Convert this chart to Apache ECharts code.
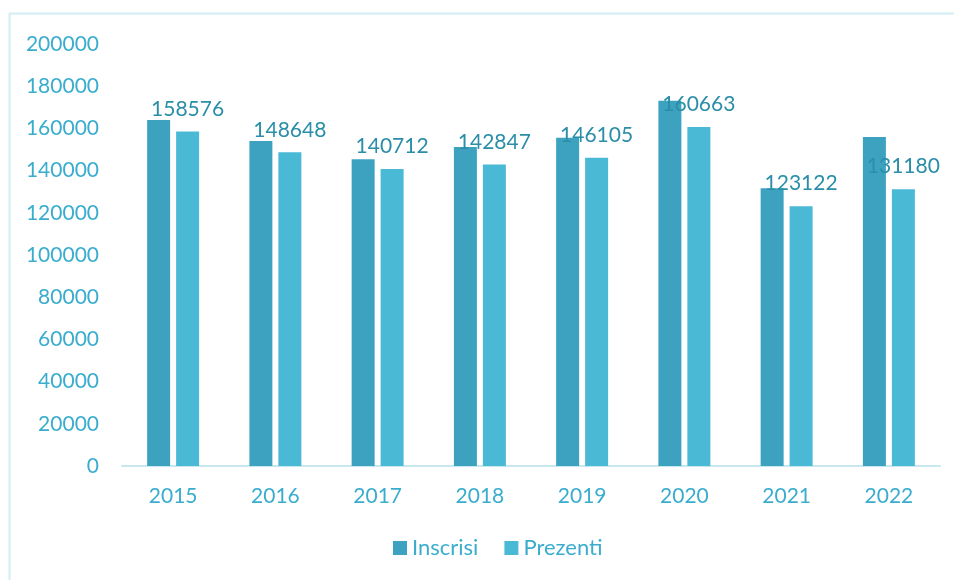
<!DOCTYPE html>
<html lang="ro">
<head>
    <meta charset="UTF-8">
    <title>Inscrisi / Prezenti</title>
    <script src="https://cdn.jsdelivr.net/npm/echarts@6/dist/echarts.min.js"></script>
    <style>
        html,body{margin:0;padding:0;background:#fff;}
        #chart{width:954px;height:580px;}
    </style>
</head>
<body>
<div id="chart"></div>
<script>
    // date
    const years = ['2015','2016','2017','2018','2019','2020','2021','2022'];
    const inscrisi = [164000,154000,145400,151200,155600,173100,131600,155900];
    const prezenti = [158576,148648,140712,142847,146105,160663,123122,131180];

    const font = 'Lato, "Open Sans", sans-serif';
    const axisColor = '#3aadcf';

    let myChart = echarts.init(document.getElementById('chart'));
    let option = {
        animation:false,
        textStyle:{fontFamily:font},
        graphic:[{
            type:'rect',
            shape:{x:9.5,y:13.5,width:1000,height:600},
            style:{fill:'none',stroke:'#d3edf4',lineWidth:2},
            silent:true
        }],
        legend:{
            bottom:16,
            left:388,
            icon:'rect',
            itemWidth:14,
            itemHeight:14,
            itemGap:26,
            textStyle:{color:axisColor,fontSize:22,fontFamily:font},
            data:['Inscrisi','Prezenti']
        },
        grid:{left:122,right:14,top:44,bottom:114},
        xAxis:{
            type:'category',
            data:years,
            axisTick:{show:false},
            axisLine:{lineStyle:{color:'#c9e7f0',width:2}},
            axisLabel:{color:axisColor,fontSize:21,margin:20}
        },
        yAxis:{
            type:'value',
            min:0,
            max:200000,
            interval:20000,
            splitLine:{show:false},
            axisLine:{show:false},
            axisTick:{show:false},
            axisLabel:{color:axisColor,fontSize:21,margin:23,formatter:function (v) {return String(v);}}
        },
        series:[
            {
                name:'Inscrisi',
                type:'bar',
                data:inscrisi,
                barWidth:23,
                barGap:'26%',
                itemStyle:{color:'#3ca2bf'}
            },
            {
                name:'Prezenti',
                type:'bar',
                data:prezenti,
                barWidth:23,
                itemStyle:{color:'#4ab9d6'},
                label:{
                    show:true,
                    position:'top',
                    distance:12,
                    color:'#2a8ea8',
                    fontSize:21,
                    fontFamily:font
                }
            }
        ]
    };
    myChart.setOption(option);
</script>
</body>
</html>
